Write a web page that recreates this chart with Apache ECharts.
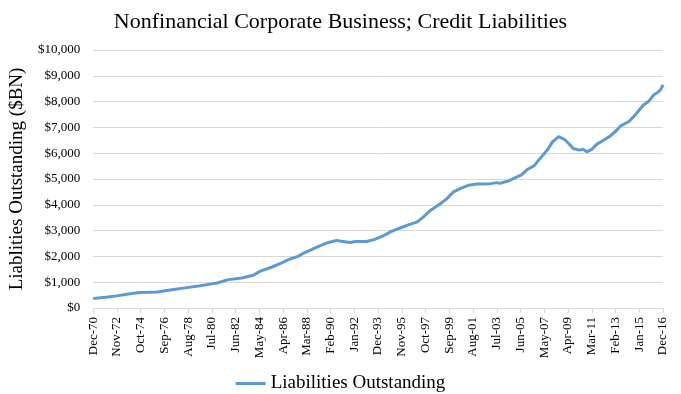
<!DOCTYPE html>
<html>
<head>
<meta charset="utf-8">
<script src="https://cdn.jsdelivr.net/npm/echarts@6/dist/echarts.min.js"></script>
<style>
html,body{margin:0;padding:0;background:#fff;}
#chart{width:681px;height:394px;}
</style>
</head>
<body>
<div id="chart"></div>
<script>
// Chart text
var chartTitle = 'Nonfinancial Corporate Business; Credit Liabilities';
var yAxisTitle = 'Liablities Outstanding ($BN)';
var seriesName = 'Liabilities Outstanding';

// Monthly category axis range
var startMonth = 'Dec-70';
var endMonth = 'Dec-16';

// Sampled readings (month label, $BN)
var sampleMonths = ['Dec-70','Dec-71','Nov-72','Oct-73','Sep-74','Jun-75','Feb-76','Jan-77','May-78','Jun-79',
  'Jul-80','Dec-80','Nov-81','Dec-82','Nov-83','Jun-84','Apr-85','Jan-86','Nov-86','Jul-87',
  'Dec-87','Aug-88','Apr-89','Dec-89','Aug-90','Dec-90','Sep-91','Feb-92','Jan-93','Aug-93',
  'May-94','Jan-95','Oct-95','Jun-96','Feb-97','Aug-97','Mar-98','Dec-98','Jul-99','Jan-00',
  'Aug-00','Apr-01','Dec-01','Jan-03','Jul-03','Oct-03','Jun-04','Jan-05','Jul-05','Jan-06',
  'Jul-06','Jan-07','Aug-07','Jan-08','Jul-08','Jan-09','Jun-09','Sep-09','Mar-10','Jul-10',
  'Oct-10','Mar-11','Aug-11','Feb-12','Sep-12','Mar-13','Jul-13','Mar-14','Sep-14','May-15',
  'Oct-15','Mar-16','Aug-16','Oct-16','Dec-16'];
var sampleValues = [370,420,470,540,600,610,620,690,780,855,
  935,970,1100,1160,1270,1430,1570,1720,1900,2010,
  2130,2270,2420,2540,2620,2590,2540,2580,2580,2650,
  2800,2970,3110,3230,3340,3530,3790,4030,4250,4500,
  4640,4760,4810,4820,4860,4830,4920,5050,5160,5380,
  5510,5800,6130,6440,6645,6520,6320,6180,6120,6150,
  6050,6150,6350,6490,6670,6880,7060,7230,7480,7870,
  8000,8260,8390,8480,8650];

// Y axis ticks
var yMin = 0, yMax = 10000, yStep = 1000;

// Build the monthly category list
var monthNames = ['Jan','Feb','Mar','Apr','May','Jun','Jul','Aug','Sep','Oct','Nov','Dec'];
function parseLabel(s){
  var p = s.split('-');
  var y = parseInt(p[1],10); y = y < 50 ? 2000 + y : 1900 + y;
  return y*12 + monthNames.indexOf(p[0]);
}
function makeLabel(k){
  var y = Math.floor(k/12), m = k % 12;
  return monthNames[m] + '-' + String(y % 100).padStart(2,'0');
}
var categories = [];
for (var k = parseLabel(startMonth); k <= parseLabel(endMonth); k++) categories.push(makeLabel(k));
var seriesData = categories.map(function(){ return null; });
sampleMonths.forEach(function(lbl, i){
  var idx = categories.indexOf(lbl);
  if (idx >= 0) seriesData[idx] = sampleValues[i];
});

var serif = '"Palatino Linotype","Book Antiqua",Palatino,"Liberation Serif",serif';
var chart = echarts.init(document.getElementById('chart'), null, {renderer:'canvas'});
chart.setOption({
  animation: false,
  backgroundColor: '#ffffff',
  title: {
    text: chartTitle, left: 'center', top: 6,
    textStyle: {fontFamily: serif, fontSize: 22, fontWeight: 'normal', color: '#000000'}
  },
  legend: {
    data: [seriesName], top: 369, left: 'center',
    itemWidth: 30, itemHeight: 3, icon: 'rect', itemGap: 5,
    textStyle: {fontFamily: serif, fontSize: 19, color: '#000000'}
  },
  grid: {left: 93, right: 18, top: 50, bottom: 86, containLabel: false},
  xAxis: {
    type: 'category', data: categories, boundaryGap: false,
    axisLine: {lineStyle: {color: '#d9d9d9', width: 1}},
    axisTick: {show: true, interval: 22, length: 5, lineStyle: {color: '#d9d9d9'}},
    axisLabel: {interval: 22, rotate: 90, margin: 9, fontFamily: serif, fontSize: 13, color: '#000000'},
    splitLine: {show: false}
  },
  yAxis: {
    type: 'value', min: yMin, max: yMax, interval: yStep,
    name: yAxisTitle, nameLocation: 'middle', nameGap: 60, nameRotate: 90,
    nameTextStyle: {fontFamily: serif, fontSize: 19, color: '#000000'},
    axisLine: {show: false}, axisTick: {show: false},
    axisLabel: {
      margin: 13, fontFamily: serif, fontSize: 13, color: '#000000',
      formatter: function(v){ return '$' + v.toLocaleString('en-US'); }
    },
    splitLine: {lineStyle: {color: '#d9d9d9', width: 1}}
  },
  series: [{
    name: seriesName, type: 'line', data: seriesData, connectNulls: true,
    showSymbol: false, symbol: 'none', smooth: false,
    lineStyle: {color: '#5b9bd5', width: 3},
    itemStyle: {color: '#5b9bd5'}
  }]
});
</script>
</body>
</html>
